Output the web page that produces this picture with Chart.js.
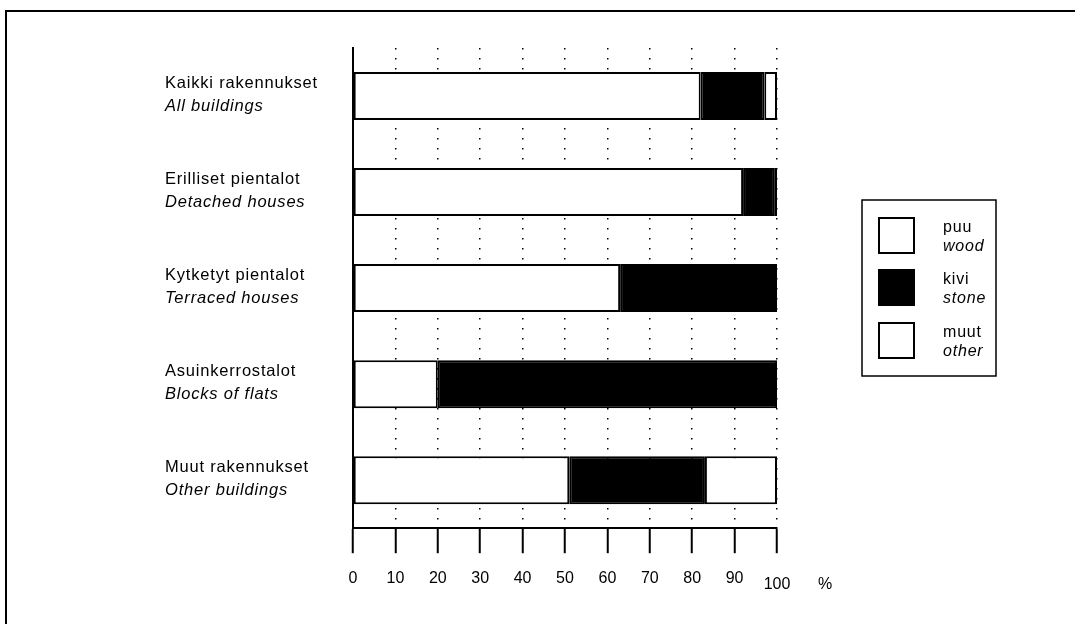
<!DOCTYPE html>
<html>
<head>
<meta charset="utf-8">
<script src="https://cdn.jsdelivr.net/npm/chart.js@4.4.0/dist/chart.umd.min.js"></script>
<style>
  html, body { margin: 0; padding: 0; background: #fff; }
  #wrap { position: relative; width: 1075px; height: 624px; overflow: hidden; }
  #frame { position: absolute; left: 5px; top: 10px; right: -5px; bottom: -5px; border-top: 2px solid #000; border-left: 2px solid #000; }
  canvas { position: absolute; left: 0; top: 0; }
</style>
</head>
<body>
<div id="wrap">
  <div id="frame"></div>
  <canvas id="chart" width="1075" height="624"></canvas>
</div>
<script>
// categories (Finnish / English)
const catFi = ['Kaikki rakennukset', 'Erilliset pientalot', 'Kytketyt pientalot', 'Asuinkerrostalot', 'Muut rakennukset'];
const catEn = ['All buildings', 'Detached houses', 'Terraced houses', 'Blocks of flats', 'Other buildings'];

// series, % of buildings
const wood  = [82, 92, 63, 20, 51];
const stone = [15, 7.5, 37, 80, 32];
const other = [3, 0.5, 0, 0, 17];

// legend texts
const seriesFi = ['puu', 'kivi', 'muut'];
const seriesEn = ['wood', 'stone', 'other'];

const xTicks = [0, 10, 20, 30, 40, 50, 60, 70, 80, 90, 100];

const FONT = '"Liberation Sans", Arial, sans-serif';

//category labels, legend and % sign
const textPlugin = {
  id: 'texts',
  afterDraw(chart) {
    const c = chart.ctx;
    const ys = chart.scales.y;
    const xs = chart.scales.x;
    c.save();
    c.fillStyle = '#000';
    c.textAlign = 'left';
    c.textBaseline = 'middle';
    c.letterSpacing = '0.8px';
    for (let i = 0; i < catFi.length; i++) {
      const py = ys.getPixelForValue(i);
      c.font = '16.5px ' + FONT;
      c.fillText(catFi[i], 165, py - 13);
      c.font = 'italic 16.5px ' + FONT;
      c.fillText(catEn[i], 165, py + 10);
    }

    // % sign next to axis
    c.font = '16px ' + FONT;
    c.fillText('%', xs.right + 41, 585);

    // legend box
    const lx = 862, ly = 200, lw = 134, lh = 176;
    c.lineWidth = 1.5;
    c.strokeStyle = '#000';
    c.strokeRect(lx, ly, lw, lh);
    const sy = [218, 270, 323];
    chart.data.datasets.forEach((ds, i) => {
      c.fillStyle = ds.backgroundColor;
      c.fillRect(879, sy[i], 35, 35);
      c.lineWidth = 2;
      c.strokeRect(879, sy[i], 35, 35);
      c.fillStyle = '#000';
      c.font = '16px ' + FONT;
      c.fillText(seriesFi[i], 943, sy[i] + 17.5 - 8);
      c.font = 'italic 16px ' + FONT;
      c.fillText(seriesEn[i], 943, sy[i] + 17.5 + 11);
    });
    c.restore();
  }
};

const ctx = document.getElementById('chart');

const bar = { borderColor: '#000', borderWidth: 2, borderSkipped: false, categoryPercentage: 1, barPercentage: 0.5 };

let myChart = new Chart(ctx, {
  type: 'bar',
  data: {
    labels: catFi,
    datasets: [
      Object.assign({ label: seriesFi[0], data: wood,  backgroundColor: '#ffffff' }, bar),
      Object.assign({ label: seriesFi[1], data: stone, backgroundColor: '#000000' }, bar),
      Object.assign({ label: seriesFi[2], data: other, backgroundColor: '#ffffff' }, bar)
    ]
  },
  options: {
    indexAxis: 'y',
    responsive: false,
    animation: false,
    layout: { padding: { left: 353, right: 298, top: 48, bottom: 18 } },
    plugins: { legend: { display: false }, tooltip: { enabled: false } },
    scales: {
      x: {
        stacked: true,
        min: 0,
        max: 100,
        afterBuildTicks: axis => { axis.ticks = xTicks.map(v => ({ value: v })); },
        grid: {
          color: '#000',
          lineWidth: 1.5,
          tickLength: 25,
          tickWidth: 2,
          tickColor: '#000',
          tickBorderDash: []
        },
        border: { display: true, color: '#000', width: 2, dash: [1.5, 8.5] },
        ticks: {
          color: '#000',
          padding: 16,
          maxRotation: 0,
          autoSkip: false,
          callback: v => v === 100 ? ['', '100'] : String(v),
          font: c => ({ family: FONT, size: 16, lineHeight: (c.tick && c.tick.value === 100) ? 0.65 : 1.2 })
        }
      },
      y: {
        stacked: true,
        grid: { display: false, drawTicks: false },
        border: { display: true, color: '#000', width: 2 },
        ticks: { display: false }
      }
    }
  },
  plugins: [textPlugin]
});
</script>
</body>
</html>
